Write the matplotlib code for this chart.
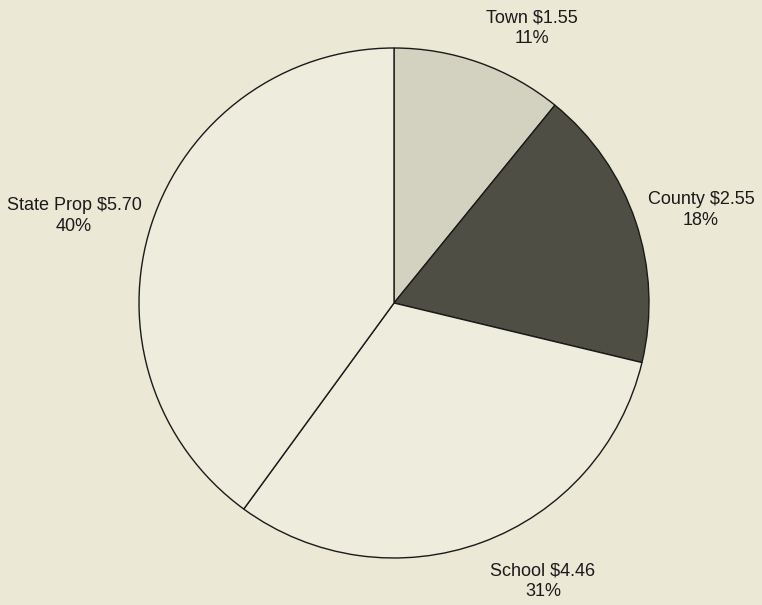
import matplotlib.pyplot as plt

# tax rate breakdown
names = ["Town", "County", "School", "State Prop"]
amounts = [1.55, 2.55, 4.46, 5.70]
colors = ["#d3d1bf", "#4f4e45", "#eeecdc", "#eeecdc"]
bg = "#ebe8d6"

fig = plt.figure(figsize=(7.62, 6.05), dpi=100, facecolor=bg)
ax = fig.add_axes([0, 0, 1, 1])
ax.set_facecolor(bg)

total = sum(amounts)
ax.pie(amounts, colors=colors, startangle=90, counterclock=False,
       center=(394, 302), radius=255, frame=True,
       wedgeprops=dict(edgecolor="#1a1a1a", linewidth=1.0))
ax.set_xlim(0, 762)
ax.set_ylim(0, 605)
ax.set_aspect("equal")
ax.axis("off")

# label spots (pixel coords, y from bottom)
label_pos = [(532, 577), (701, 395), (543, 24), (74, 389)]
for name, amt, (x, y) in zip(names, amounts, label_pos):
    pct = round(amt / total * 100)
    ax.text(x, y, f"{name} ${amt:.2f}\n{pct}%", ha="center", va="center",
            fontsize=13, family="Liberation Sans", color="#1a1a1a",
            linespacing=1.25)

fig.savefig("out.png", dpi=100, facecolor=bg)
